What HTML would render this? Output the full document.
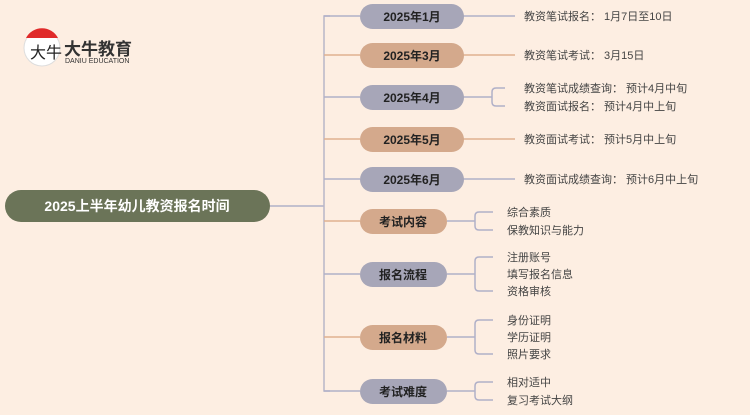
<!DOCTYPE html>
<html><head><meta charset="utf-8"><style>
body{margin:0;background:#fdeee2;}
text{font-family:"Liberation Sans","Noto Sans CJK SC",sans-serif;}
</style></head><body>
<svg width="750" height="410" xmlns="http://www.w3.org/2000/svg">
<rect width="750" height="410" fill="#fdeee2"/>
<!-- logo -->
<circle cx="42" cy="48" r="18" fill="#fff" stroke="#ddd"/>
<path d="M26 38 A18 18 0 0 1 58 38 Z" fill="#e02a2a"/>
<text x="30" y="58" font-size="16" fill="#222">大牛</text>
<text x="64" y="55" font-size="17" font-weight="bold" fill="#333">大牛教育</text>
<text x="65" y="63" font-size="7" fill="#333">DANIU EDUCATION</text>
<!-- trunk -->
<g stroke-width="1.5" fill="none">
<line x1="270" y1="206" x2="324" y2="206" stroke="#b0b0c8"/>
<path d="M330 16 L324 16 L324 391 L330 391" stroke="#b8b6c8"/>
<g stroke="#b0b0c8">
<line x1="324" y1="16" x2="360" y2="16"/><line x1="324" y1="97" x2="360" y2="97"/>
<line x1="324" y1="179" x2="360" y2="179"/><line x1="324" y1="274" x2="360" y2="274"/>
<line x1="324" y1="391" x2="360" y2="391"/>
<line x1="463" y1="16" x2="515" y2="16"/><line x1="463" y1="179" x2="515" y2="179"/>
<path d="M463 97 L492 97 M505 88 L496 88 Q492 88 492 92 L492 102 Q492 106 496 106 L505 106"/>
<path d="M447 274 L475 274 M493 257 L479 257 Q475 257 475 261 L475 287 Q475 291 479 291 L493 291"/>
<path d="M447 221 L475 221 M493 212 L479 212 Q475 212 475 216 L475 226 Q475 230 479 230 L493 230"/>
<path d="M447 337 L475 337 M493 320 L479 320 Q475 320 475 324 L475 350 Q475 354 479 354 L493 354"/>
<path d="M447 391 L475 391 M493 382 L479 382 Q475 382 475 386 L475 396 Q475 400 479 400 L493 400"/>
</g>
<g stroke="#e0b090">
<line x1="324" y1="55" x2="360" y2="55"/><line x1="324" y1="139" x2="360" y2="139"/>
<line x1="324" y1="221" x2="360" y2="221"/><line x1="324" y1="337" x2="360" y2="337"/>
<line x1="463" y1="55" x2="515" y2="55"/><line x1="463" y1="139" x2="515" y2="139"/>
</g>
</g>
<rect x="5" y="190" width="265" height="32" rx="16" fill="#6b7458"/>
<text x="137" y="211" font-size="14" font-weight="bold" fill="#fff" text-anchor="middle">2025上半年幼儿教资报名时间</text>
<g font-size="12" font-weight="bold" fill="#222" text-anchor="middle">
<rect x="360" y="4" width="104" height="25" rx="12.5" fill="#a7a6b8"/><text x="412" y="21">2025年1月</text>
<rect x="360" y="43" width="104" height="25" rx="12.5" fill="#d4a98c"/><text x="412" y="60">2025年3月</text>
<rect x="360" y="85" width="104" height="25" rx="12.5" fill="#a7a6b8"/><text x="412" y="102">2025年4月</text>
<rect x="360" y="127" width="104" height="25" rx="12.5" fill="#d4a98c"/><text x="412" y="144">2025年5月</text>
<rect x="360" y="167" width="104" height="25" rx="12.5" fill="#a7a6b8"/><text x="412" y="184">2025年6月</text>
<rect x="360" y="209" width="87" height="25" rx="12.5" fill="#d4a98c"/><text x="403" y="226">考试内容</text>
<rect x="360" y="262" width="87" height="25" rx="12.5" fill="#a7a6b8"/><text x="403" y="279">报名流程</text>
<rect x="360" y="325" width="87" height="25" rx="12.5" fill="#d4a98c"/><text x="403" y="342">报名材料</text>
<rect x="360" y="379" width="87" height="25" rx="12.5" fill="#a7a6b8"/><text x="403" y="396">考试难度</text>
</g>
<g font-size="11" fill="#444">
<text x="524" y="20">教资笔试报名： 1月7日至10日</text>
<text x="524" y="59">教资笔试考试： 3月15日</text>
<text x="524" y="92">教资笔试成绩查询： 预计4月中旬</text>
<text x="524" y="110">教资面试报名： 预计4月中上旬</text>
<text x="524" y="143">教资面试考试： 预计5月中上旬</text>
<text x="524" y="183">教资面试成绩查询： 预计6月中上旬</text>
<text x="507" y="216">综合素质</text>
<text x="507" y="234">保教知识与能力</text>
<text x="507" y="261">注册账号</text>
<text x="507" y="278">填写报名信息</text>
<text x="507" y="295">资格审核</text>
<text x="507" y="324">身份证明</text>
<text x="507" y="341">学历证明</text>
<text x="507" y="358">照片要求</text>
<text x="507" y="386">相对适中</text>
<text x="507" y="404">复习考试大纲</text>
</g>
</svg>
</body></html>
